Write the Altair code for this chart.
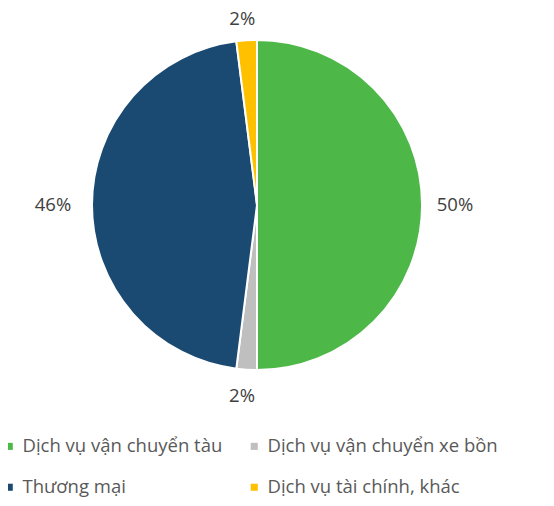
import altair as alt
import pandas as pd

categories = ["Dịch vụ vận chuyển tàu", "Dịch vụ vận chuyển xe bồn", "Thương mại", "Dịch vụ tài chính, khác"]
values = [50, 2, 46, 2]
labels = ["50%", "2%", "46%", "2%"]
colors = ["#4DB848", "#BFBFBF", "#1A4A72", "#FFC000"]

df = pd.DataFrame({"cat": categories, "value": values, "label": labels, "idx": list(range(len(categories)))})

CX, CY, R = 249, 197, 165

base = alt.Chart(df)

pie = base.mark_arc(radius=R, stroke="white", strokeWidth=2).encode(
    theta=alt.Theta("value:Q", stack=True),
    order=alt.Order("idx:Q"),
    color=alt.Color(
        "cat:N",
        scale=alt.Scale(domain=categories, range=colors),
        legend=alt.Legend(
            title=None,
            orient="none",
            direction="horizontal",
            legendX=-8,
            legendY=429,
            padding=0,
            columns=2,
            columnPadding=22,
            rowPadding=22,
            gridAlign="each",
            symbolType="square",
            symbolSize=50,
            symbolStrokeWidth=0,
            labelFont="Open Sans",
            labelFontSize=18.5,
            labelColor="#595959",
            labelOffset=4,
            labelLimit=400,
        ),
    ),
    x=alt.value(CX),
    y=alt.value(CY),
)

text = base.transform_joinaggregate(total="sum(value)").transform_window(
    cum="sum(value)", sort=[alt.SortField("idx")]
).transform_calculate(
    mid="2*PI*(datum.cum - datum.value/2)/datum.total"
).transform_calculate(
    rr="188 + 13*abs(sin(datum.mid)) - 2.5*cos(datum.mid)"
).transform_calculate(
    px=f"{CX} - 3 + datum.rr*sin(datum.mid)",
    py=f"{CY} - datum.rr*cos(datum.mid)",
).mark_text(font="Open Sans", fontSize=18.5, color="#404040", align="center", baseline="middle").encode(
    x=alt.X("px:Q", scale=None),
    y=alt.Y("py:Q", scale=None),
    text="label:N",
)

chart = alt.layer(pie, text).properties(
    width=538, height=490, autosize=alt.AutoSizeParams(type="none"), padding=0
).configure_view(stroke=None)

chart.save("out.html", embed_options={"renderer": "svg", "actions": False})
